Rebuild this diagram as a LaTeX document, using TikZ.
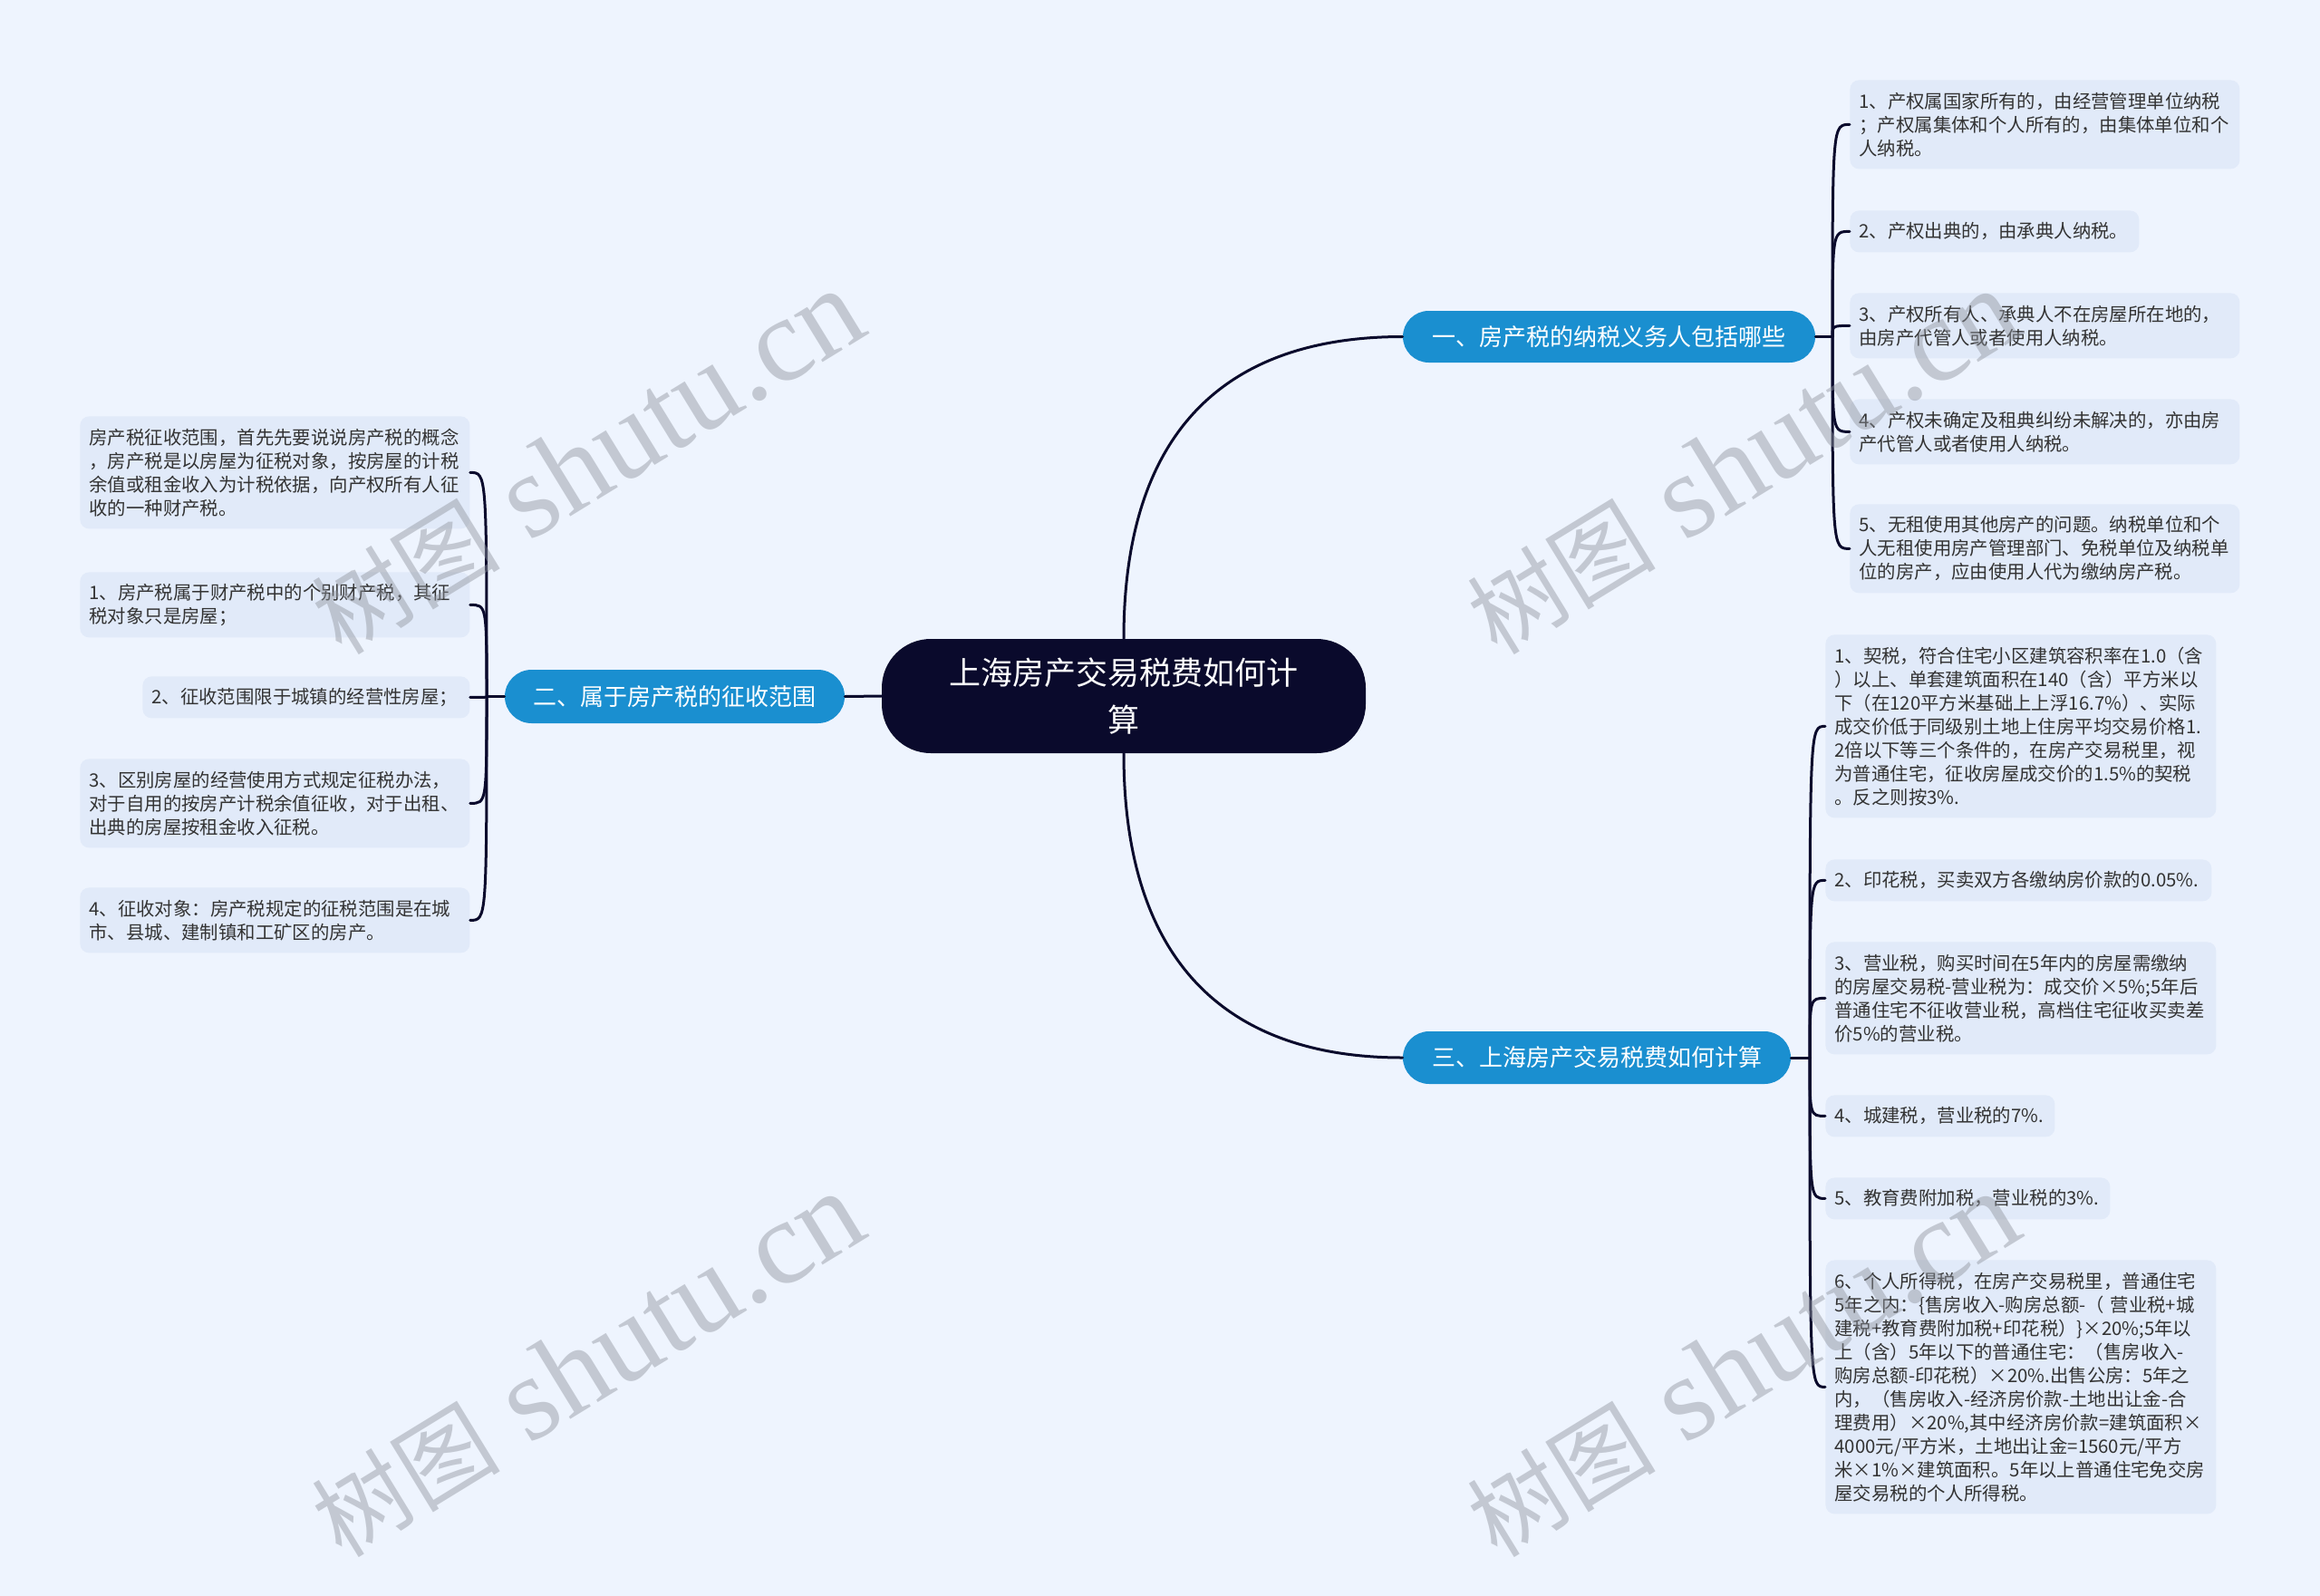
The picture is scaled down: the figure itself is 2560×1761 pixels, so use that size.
\documentclass[tikz,border=0pt]{standalone}
\usepackage{fontspec}
\setmainfont{Noto Sans CJK SC}
\newfontfamily\wmlatin{Liberation Serif}
\definecolor{bgc}{HTML}{EEF4FE}
\definecolor{leafc}{HTML}{E1EAF9}
\definecolor{brc}{HTML}{1A8FD0}
\definecolor{rootc}{HTML}{0A0A2C}
\definecolor{linec}{HTML}{0A0A2C}
\definecolor{txtc}{HTML}{333333}
\definecolor{wmc}{HTML}{8F949E}
\tikzset{
  leaf/.style={fill=leafc, rounded corners=5pt, text=txtc,
    font=\fontsize{10.2}{13}\selectfont, align=left,
    inner xsep=5pt, inner ysep=0pt, anchor=north west},
  branch/.style={fill=brc, text=white, font=\fontsize{13}{16}\selectfont,
    inner sep=0pt, align=center},
  rootbox/.style={fill=rootc, text=white, font=\fontsize{17.5}{26}\selectfont,
    inner sep=0pt, align=center, rounded corners=27pt,
    minimum width=267pt, minimum height=63pt},
  conn/.style={draw=linec, line width=1.5pt, line cap=round},
  wm/.style={text=wmc, text opacity=0.45, font=\fontsize{52}{52}\selectfont,
    inner sep=0pt, rotate=31.5}
}
\newcommand{\wmtext}{树图{\wmlatin\fontsize{66}{66}\selectfont\ shutu.cn}}
\begin{document}
\begin{tikzpicture}[x=0.5pt,y=-0.5pt]
\fill[bgc] (0,0) rectangle (2560,1761);
\useasboundingbox (0,0) rectangle (2560,1761);

% root
\node[rootbox] (root) at (1240,768) {上海房产交易税费如何计\\算};

% branches
\node[branch, rounded corners=14.25pt, minimum width=227.5pt, minimum height=28.5pt] (b1) at (1775.5,371.5) {一、房产税的纳税义务人包括哪些};
\node[branch, rounded corners=14.75pt, minimum width=187.5pt, minimum height=29.5pt] (b2) at (744.5,768.5) {二、属于房产税的征收范围};
\node[branch, rounded corners=14.5pt, minimum width=214pt, minimum height=29pt] (b3) at (1762,1167) {三、上海房产交易税费如何计算};

% junctions
\coordinate (j1) at (2022,371.5);
\coordinate (j2) at (537,768.5);
\coordinate (j3) at (1997,1167);

% branch 1 leaves
\node[leaf, text width=205pt, minimum width=215pt, minimum height=49pt] (r1a) at (2041,88)
 {1、产权属国家所有的，由经营管理单位纳税\\；产权属集体和个人所有的，由集体单位和个\\人纳税。};
\node[leaf, text width=149.5pt, minimum width=159.5pt, minimum height=23pt] (r1b) at (2041,232)
 {2、产权出典的，由承典人纳税。};
\node[leaf, text width=205pt, minimum width=215pt, minimum height=36pt] (r1c) at (2041,323)
 {3、产权所有人、承典人不在房屋所在地的，\\由房产代管人或者使用人纳税。};
\node[leaf, text width=205pt, minimum width=215pt, minimum height=36pt] (r1d) at (2041,440)
 {4、产权未确定及租典纠纷未解决的，亦由房\\产代管人或者使用人纳税。};
\node[leaf, text width=205pt, minimum width=215pt, minimum height=49pt] (r1e) at (2041,556)
 {5、无租使用其他房产的问题。纳税单位和个\\人无租使用房产管理部门、免税单位及纳税单\\位的房产，应由使用人代为缴纳房产税。};

% branch 2 leaves
\node[leaf, text width=205pt, minimum width=215pt, minimum height=62pt] (l0) at (88,459)
 {房产税征收范围，首先先要说说房产税的概念\\，房产税是以房屋为征税对象，按房屋的计税\\余值或租金收入为计税依据，向产权所有人征\\收的一种财产税。};
\node[leaf, text width=205pt, minimum width=215pt, minimum height=36pt] (l1) at (88,631)
 {1、房产税属于财产税中的个别财产税，其征\\税对象只是房屋；};
\node[leaf, text width=170.5pt, minimum width=180.5pt, minimum height=23pt] (l2) at (157,746)
 {2、征收范围限于城镇的经营性房屋；};
\node[leaf, text width=205pt, minimum width=215pt, minimum height=49pt] (l3) at (88,837)
 {3、区别房屋的经营使用方式规定征税办法，\\对于自用的按房产计税余值征收，对于出租、\\出典的房屋按租金收入征税。};
\node[leaf, text width=205pt, minimum width=215pt, minimum height=36pt] (l4) at (88,979)
 {4、征收对象：房产税规定的征税范围是在城\\市、县城、建制镇和工矿区的房产。};

% branch 3 leaves
\node[leaf, text width=205.5pt, minimum width=215.5pt, minimum height=101pt] (r3a) at (2014,700)
 {1、契税，符合住宅小区建筑容积率在1.0（含\\）以上、单套建筑面积在140（含）平方米以\\下（在120平方米基础上上浮16.7\%）、实际\\成交价低于同级别土地上住房平均交易价格1.\\2倍以下等三个条件的，在房产交易税里，视\\为普通住宅，征收房屋成交价的1.5\%的契税\\。反之则按3\%.};
\node[leaf, text width=203pt, minimum width=213pt, minimum height=23pt] (r3b) at (2014,948)
 {2、印花税，买卖双方各缴纳房价款的0.05\%.};
\node[leaf, text width=205.5pt, minimum width=215.5pt, minimum height=62pt] (r3c) at (2014,1039)
 {3、营业税，购买时间在5年内的房屋需缴纳\\的房屋交易税-营业税为：成交价×5\%;5年后\\普通住宅不征收营业税，高档住宅征收买卖差\\价5\%的营业税。};
\node[leaf, text width=116.5pt, minimum width=126.5pt, minimum height=23pt] (r3d) at (2014,1208)
 {4、城建税，营业税的7\%.};
\node[leaf, text width=147pt, minimum width=157pt, minimum height=23pt] (r3e) at (2014,1299)
 {5、教育费附加税，营业税的3\%.};
\node[leaf, text width=205.5pt, minimum width=215.5pt, minimum height=140pt] (r3f) at (2014,1390)
 {6、个人所得税，在房产交易税里，普通住宅\\5年之内：\{售房收入-购房总额-（ 营业税+城\\建税+教育费附加税+印花税）\}×20\%;5年以\\上（含）5年以下的普通住宅：（售房收入-\\购房总额-印花税）×20\%.出售公房：5年之\\内，（售房收入-经济房价款-土地出让金-合\\理费用）×20\%,其中经济房价款=建筑面积×\\4000元/平方米，土地出让金=1560元/平方\\米×1\%×建筑面积。5年以上普通住宅免交房\\屋交易税的个人所得税。};

% main connectors
\draw[conn] (root.north) .. controls +(0,-225) and +(-199,0) .. (b1.west);
\draw[conn] (root.south) .. controls +(0,225) and +(-199,0) .. (b3.west);
\draw[conn] (root.west) -- (b2.east);

% branch to junction
\draw[conn] (b1.east) -- (j1);
\draw[conn] (b2.west) -- (j2);
\draw[conn] (b3.east) -- (j3);

% leaf connectors
\foreach \c in {r1a,r1b,r1c,r1d,r1e}
  \draw[conn] (j1) .. controls (j1 |- \c.west) .. (\c.west);
\foreach \c in {l0,l1,l2,l3,l4}
  \draw[conn] (j2) .. controls (j2 |- \c.east) .. (\c.east);
\foreach \c in {r3a,r3b,r3c,r3d,r3e,r3f}
  \draw[conn] (j3) .. controls (j3 |- \c.west) .. (\c.west);

% watermarks
\node[wm] (wm1) at (648,510) {\wmtext};
\node[wm] (wm2) at (1923,510) {\wmtext};
\node[wm] (wm3) at (648,1506) {\wmtext};
\node[wm] (wm4) at (1923,1506) {\wmtext};
\end{tikzpicture}
\end{document}
